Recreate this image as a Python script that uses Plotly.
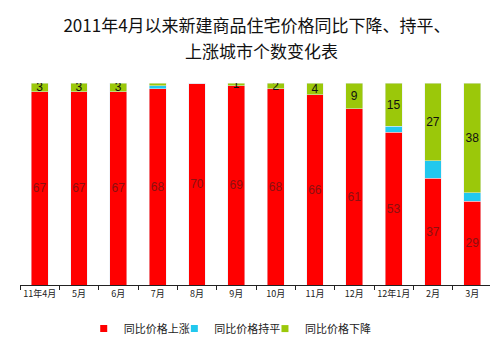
import plotly.graph_objects as go

categories = ["11年4月", "5月", "6月", "7月", "8月", "9月", "10月", "11月", "12月", "12年1月", "2月", "3月"]
rise = [67, 67, 67, 68, 70, 69, 68, 66, 61, 53, 37, 29]
flat = [0, 0, 0, 1, 0, 0, 0, 0, 0, 2, 6, 3]
fall = [3, 3, 3, 1, 0, 1, 2, 4, 9, 15, 27, 38]
fall_labels = ["3", "3", "3", "", "", "1", "2", "4", "9", "15", "27", "38"]
series_names = ["同比价格上涨", "同比价格持平", "同比价格下降"]
series_colors = ["#FF0000", "#22C8EE", "#9BC80A"]
title_lines = ["2011年4月以来新建商品住宅价格同比下降、持平、", "上涨城市个数变化表"]

font_cjk = "Noto Sans CJK SC, Liberation Sans, sans-serif"

fig = go.Figure()
fig.add_bar(x=categories, y=rise, name=series_names[0], marker_color=series_colors[0],
            text=[str(v) for v in rise], textposition="inside", insidetextanchor="middle",
            textfont=dict(color="#8B1010", size=12, family="Liberation Sans"), textangle=0,
            showlegend=False, legendgroup="g0")
fig.add_bar(x=categories, y=flat, name=series_names[1], marker_color=series_colors[1],
            text=["" for _ in flat], textposition="none", showlegend=False, legendgroup="g1")
fig.add_bar(x=categories, y=fall, name=series_names[2], marker_color=series_colors[2],
            text=fall_labels, textposition="inside", insidetextanchor="middle",
            textfont=dict(color="#111111", size=12, family="Liberation Sans"), textangle=0,
            showlegend=False, legendgroup="g2")
# legend entries with small square keys (same groups as the bars), one legend box each
legend_ids = ["legend", "legend2", "legend3"]
for i, (nm, col) in enumerate(zip(series_names, series_colors)):
    fig.add_scatter(x=[None], y=[None], mode="markers", name=nm, legendgroup=f"g{i}",
                    marker=dict(symbol="square", size=7, color=col), showlegend=True,
                    legend=legend_ids[i])

leg_common = dict(orientation="h", xanchor="left", y=-0.144, yanchor="top",
                  font=dict(family=font_cjk, size=11, color="#222222"),
                  itemwidth=30, itemclick=False, bgcolor="rgba(0,0,0,0)")

fig.update_layout(
    barmode="stack",
    bargap=0.57,
    width=498, height=356,
    margin=dict(l=12, r=14, t=75, b=79, autoexpand=False),
    paper_bgcolor="white", plot_bgcolor="white",
    uniformtext=dict(minsize=12, mode="show"),
    title=dict(text=title_lines[0],
               x=0.5, xanchor="center", y=0.966, yanchor="top",
               font=dict(family=font_cjk, size=17, color="#111111")),
    legend=dict(x=0.135, **leg_common),
    legend2=dict(x=0.327, **leg_common),
    legend3=dict(x=0.519, **leg_common),
    showlegend=True,
)
fig.add_annotation(text=title_lines[1], xref="paper", yref="paper", x=0.5 + 6/472, y=1.163,
                   xanchor="center", yanchor="middle", showarrow=False,
                   font=dict(family=font_cjk, size=17, color="#111111"))
fig.update_xaxes(showline=True, linecolor="#222222", linewidth=1,
                 ticks="outside", tickson="boundaries", ticklen=4, tickcolor="#222222",
                 tickangle=0,
                 tickfont=dict(family=font_cjk, size=9, color="#222222"),
                 showgrid=False)
fig.update_yaxes(range=[0, 70], visible=False, showgrid=False)

fig.write_html("out.html")
